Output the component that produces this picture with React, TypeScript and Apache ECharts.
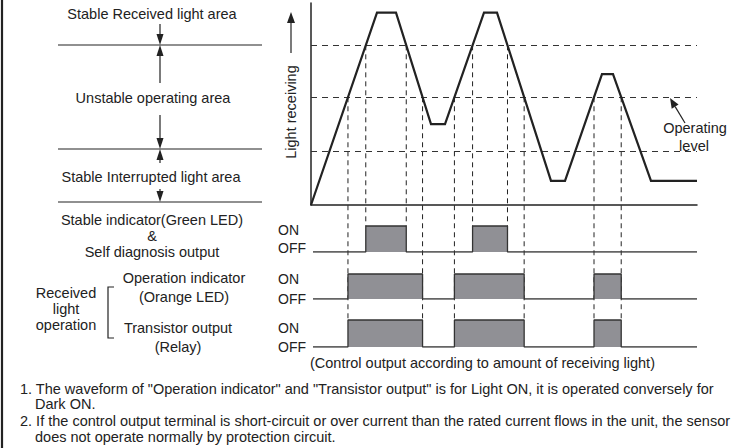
import React, { useEffect, useRef } from "react";
import * as echarts from "echarts";

// ---- data ----
const WAVE_T = [0, 66, 85, 120, 134, 173, 186, 240, 254, 291, 302, 340, 386];
const WAVE_LEVEL = [0, 100, 100, 42, 42, 100, 100, 12.5, 12.5, 68, 68, 12.5, 12.5];
const STABLE_LEVEL = 83;
const OPERATING_LEVEL = 56;
const INTERRUPTED_LEVEL = 28;
const T_MAX = 386;
const LEVEL_MAX = 105;
const ROW_START = 2;

const AREA_LABELS = ["Stable Received light area", "Unstable operating area", "Stable Interrupted light area"];
const ROW_LABELS = ["Stable indicator(Green LED)", "&", "Self diagnosis output"];
const OP_LABELS = ["Operation indicator", "(Orange LED)"];
const TR_LABELS = ["Transistor output", "(Relay)"];
const GROUP_LABELS = ["Received", "light", "operation"];
const STATE_LABELS = ["ON", "OFF"];
const LEVEL_LABELS = ["Operating", "level"];
const Y_NAME = "Light receiving";
const CAPTION = "(Control output according to amount of receiving light)";
const NOTES = [
  "1. The waveform of \"Operation indicator\" and \"Transistor output\" is for Light ON, it is operated conversely for",
  "Dark ON.",
  "2. If the control output terminal is short-circuit or over current than the rated current flows in the unit, the sensor",
  "does not operate normally by protection circuit.",
];

const INK = "#222";
const FILL = "#909095";
const FONT = '14.5px "Liberation Sans", Arial, sans-serif';
const FONT_SMALL = '14px "Liberation Sans", Arial, sans-serif';

function crossings(level: number): number[] {
  const out: number[] = [];
  for (let i = 0; i < WAVE_T.length - 1; i++) {
    const a = WAVE_LEVEL[i], b = WAVE_LEVEL[i + 1];
    if ((a < level && b >= level) || (a >= level && b < level)) {
      out.push(WAVE_T[i] + ((level - a) / (b - a)) * (WAVE_T[i + 1] - WAVE_T[i]));
    }
  }
  return out;
}

function pulseData(edges: number[]): number[][] {
  const d: number[][] = [[ROW_START, 0]];
  for (let i = 0; i + 1 < edges.length; i += 2) {
    d.push([edges[i], 0], [edges[i], 1], [edges[i + 1], 1], [edges[i + 1], 0]);
  }
  d.push([T_MAX, 0]);
  return d;
}

function txt(text: string, x: number, y: number, align = "center", font = FONT) {
  return {
    type: "text",
    x,
    y,
    silent: true,
    style: { text, fill: INK, font, align, verticalAlign: "middle" },
  };
}

function line(x1: number, y1: number, x2: number, y2: number, w = 1.2, dash?: number[]) {
  return {
    type: "line",
    silent: true,
    shape: { x1, y1, x2, y2 },
    style: { stroke: INK, lineWidth: w, lineDash: dash },
  };
}

function arrow(x1: number, y1: number, x2: number, y2: number, len = 11, hw = 3.5, w = 1.2) {
  const dx = x2 - x1, dy = y2 - y1;
  const L = Math.sqrt(dx * dx + dy * dy);
  const ux = dx / L, uy = dy / L;
  const bx = x2 - ux * len, by = y2 - uy * len;
  const nx = -uy, ny = ux;
  return [
    line(x1, y1, bx, by, w),
    {
      type: "polygon",
      silent: true,
      shape: { points: [[x2, y2], [bx + nx * hw, by + ny * hw], [bx - nx * hw, by - ny * hw]] },
      style: { fill: INK },
    },
  ];
}

export default function App() {
  const ref = useRef<HTMLDivElement>(null);
  useEffect(() => {
    document.body.style.margin = "0";
    const chart = echarts.init(ref.current!, undefined, { renderer: "svg" });
    const stableEdges = crossings(STABLE_LEVEL);
    const opEdges = crossings(OPERATING_LEVEL);

    const rowGrids = [
      { top: 200, height: 52 },
      { top: 249, height: 50 },
      { top: 293, height: 54 },
    ];
    const hiddenX = (gi: number) => ({
      type: "value", gridIndex: gi, min: 0, max: T_MAX, show: false,
    });
    const hiddenY = (gi: number) => ({
      type: "value", gridIndex: gi, min: 0, max: 2, show: false,
    });

    const pulseSeries = (gi: number, edges: number[]) => ({
      type: "line",
      xAxisIndex: gi,
      yAxisIndex: gi,
      data: pulseData(edges),
      symbol: "none",
      silent: true,
      lineStyle: { color: "#333", width: 1.3 },
      areaStyle: { color: FILL, opacity: 1 },
    });

    chart.setOption({
      animation: false,
      grid: [
        { left: 311, top: 3, width: T_MAX, height: 202 },
        ...rowGrids.map((g) => ({ left: 311, top: g.top, width: T_MAX, height: g.height })),
      ],
      xAxis: [
        {
          type: "value", gridIndex: 0, min: 0, max: T_MAX,
          axisLine: { show: true, lineStyle: { color: INK, width: 1.5 } },
          axisTick: { show: false }, axisLabel: { show: false }, splitLine: { show: false },
        },
        hiddenX(1), hiddenX(2), hiddenX(3),
      ],
      yAxis: [
        {
          type: "value", gridIndex: 0, min: 0, max: LEVEL_MAX,
          axisLine: { show: true, lineStyle: { color: INK, width: 1.5 } },
          axisTick: { show: false }, axisLabel: { show: false }, splitLine: { show: false },
        },
        hiddenY(1), hiddenY(2), hiddenY(3),
      ],
      series: [
        {
          type: "line",
          xAxisIndex: 0,
          yAxisIndex: 0,
          data: WAVE_T.map((t, i) => [t, WAVE_LEVEL[i]]),
          symbol: "none",
          silent: true,
          z: 5,
          lineStyle: { color: INK, width: 2.2, join: "miter" },
          markLine: {
            silent: true,
            symbol: "none",
            label: { show: false },
            lineStyle: { color: "#333", width: 1, type: [6, 5] },
            data: [{ yAxis: STABLE_LEVEL }, { yAxis: OPERATING_LEVEL }, { yAxis: INTERRUPTED_LEVEL }],
          },
        },
        pulseSeries(1, stableEdges),
        pulseSeries(2, opEdges),
        pulseSeries(3, opEdges),
      ],
    });

    const verticals: any[] = [];
    stableEdges.forEach((t) => {
      const p = chart.convertToPixel({ gridIndex: 0 }, [t, STABLE_LEVEL]) as number[];
      const q = chart.convertToPixel({ gridIndex: 1 }, [t, 1]) as number[];
      verticals.push(line(p[0], p[1], q[0], q[1], 1, [5, 4]));
    });
    opEdges.forEach((t) => {
      const p = chart.convertToPixel({ gridIndex: 0 }, [t, OPERATING_LEVEL]) as number[];
      const q = chart.convertToPixel({ gridIndex: 3 }, [t, 1]) as number[];
      verticals.push(line(p[0], p[1], q[0], q[1], 1, [5, 4]));
    });

    const graphic: any[] = [
      line(2, 0, 2, 448, 2.2),
      // left area diagram
      txt(AREA_LABELS[0], 152, 14),
      line(58, 45, 262, 45),
      ...arrow(160, 24, 160, 45),
      ...arrow(160, 83, 160, 45),
      txt(AREA_LABELS[1], 153, 98),
      ...arrow(160, 115, 160, 149),
      line(58, 149, 262, 149),
      ...arrow(160, 163, 160, 149),
      txt(AREA_LABELS[2], 151, 177),
      ...arrow(160, 189, 160, 202),
      line(58, 202, 262, 202),
      // row labels
      txt(ROW_LABELS[0], 152, 220),
      txt(ROW_LABELS[1], 152, 236),
      txt(ROW_LABELS[2], 152, 252),
      txt(OP_LABELS[0], 184, 278),
      txt(OP_LABELS[1], 184, 297),
      txt(TR_LABELS[0], 178, 328),
      txt(TR_LABELS[1], 178, 347),
      txt(GROUP_LABELS[0], 66, 293),
      txt(GROUP_LABELS[1], 66, 309),
      txt(GROUP_LABELS[2], 66, 325),
      {
        type: "polyline",
        silent: true,
        shape: { points: [[114, 287], [108, 287], [108, 338], [114, 338]] },
        style: { stroke: INK, lineWidth: 1.2, fill: null },
      },
      txt(STATE_LABELS[0], 278, 230, "left", FONT_SMALL),
      txt(STATE_LABELS[1], 278, 248, "left", FONT_SMALL),
      txt(STATE_LABELS[0], 278, 279, "left", FONT_SMALL),
      txt(STATE_LABELS[1], 278, 299, "left", FONT_SMALL),
      txt(STATE_LABELS[0], 278, 328, "left", FONT_SMALL),
      txt(STATE_LABELS[1], 278, 347, "left", FONT_SMALL),
      // y name + arrow
      {
        type: "text",
        x: 291,
        y: 112,
        rotation: Math.PI / 2,
        silent: true,
        style: { text: Y_NAME, fill: INK, font: FONT, align: "center", verticalAlign: "middle" },
      },
      ...arrow(291, 53, 291, 12, 11, 4),
      // operating level
      txt(LEVEL_LABELS[0], 695, 128),
      txt(LEVEL_LABELS[1], 694, 146),
      ...arrow(685, 123, 670, 98, 10, 4),
      // caption + notes
      txt(CAPTION, 310, 363, "left"),
      txt(NOTES[0], 20, 389, "left"),
      txt(NOTES[1], 35, 404, "left"),
      txt(NOTES[2], 20, 421, "left"),
      txt(NOTES[3], 35, 437, "left"),
      ...verticals,
    ];
    chart.setOption({ graphic });
    return () => chart.dispose();
  }, []);
  return <div ref={ref} style={{ width: 731, height: 448, background: "#fff" }} />;
}
